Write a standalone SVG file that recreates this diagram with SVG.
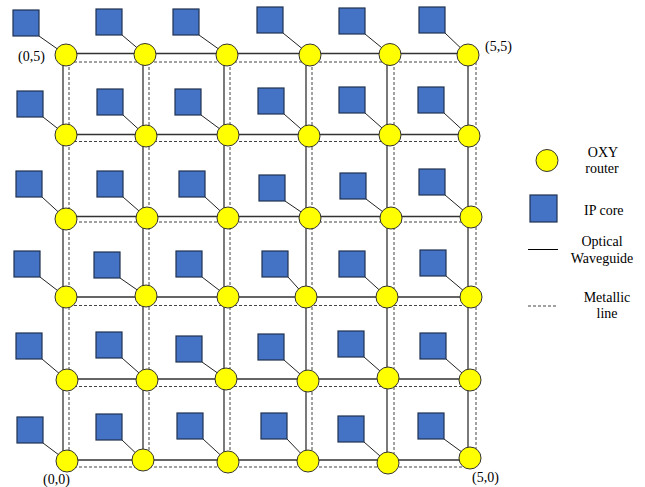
<svg xmlns="http://www.w3.org/2000/svg" width="645" height="487" viewBox="0 0 645 487">
<style>
.w{stroke:#333;stroke-width:1.3;fill:none}
.m{stroke:#444;stroke-width:1;stroke-dasharray:3,2;fill:none}
.c{stroke:#222;stroke-width:1;fill:none}
.ip{fill:#4472C4;stroke:#1F3350;stroke-width:1.2}
.r{fill:#FFFF00;stroke:#333;stroke-width:1}
text{font-family:"Liberation Serif","Times New Roman",serif;font-size:14px;fill:#000}
</style>
<defs>
<rect id="sq" width="26" height="26" class="ip"/>
<circle id="rt" r="11" class="r"/>
</defs>
<g id="connectors">
<g id="metallic">
<path class="m" d="M69,62V467M149,62V467M230,62V467M312,62V467M394,62V467M476,62V467"/>
<path class="m" d="M69,62H476M69,141.5H476M69,222H476M69,305.5H476M69,386.5H476M69,467H476"/>
</g>
<g id="optical">
<path class="w" d="M63,53.5V460M143,53.5V460M224,53.5V460M306,53.5V460M387,53.5V460M468,53.5V460"/>
<path class="w" d="M63,53.5H468M63,134.5H468M63,216.5H468M63,297H468M63,379H468M63,460H468"/>
</g>
<g id="links">
<path class="c" d="M39,36L66,55M122,35L145,54.5M199,35L227,55M283,33L310,55M365,34L390,54.5M445,33L468,55"/>
<path class="c" d="M43,117L66,135M123,115L146,136M201,115L228,135M284,114L309,136M365,113L390,135M444,113L469,136"/>
<path class="c" d="M42,197L66,219M123,197L147,218M205,197L228,218M285,201L310,218M366,199L391,218M445,195L471,217"/>
<path class="c" d="M40,277L66,297M120,278L146,296M202,277L228,297M288,277L306,297M365,277L387,297M446,276L471,297"/>
<path class="c" d="M42,359L67,380M122,358L147,380M202,362L226,379M284,360L308,381M364,357L388,378M446,359L470,380"/>
<path class="c" d="M43,443L67,461M122,440L143,460M203,439L228,462M287,439L308,461M364,442L388,463M444,439L470,458"/>
</g>
</g>
<g id="ipcores">
<use href="#sq" x="13" y="10"/><use href="#sq" x="96" y="9"/><use href="#sq" x="173" y="9"/><use href="#sq" x="257" y="7"/><use href="#sq" x="339" y="8"/><use href="#sq" x="419" y="7"/>
<use href="#sq" x="17" y="91"/><use href="#sq" x="97" y="89"/><use href="#sq" x="175" y="89"/><use href="#sq" x="258" y="88"/><use href="#sq" x="339" y="87"/><use href="#sq" x="418" y="87"/>
<use href="#sq" x="16" y="171"/><use href="#sq" x="97" y="171"/><use href="#sq" x="179" y="171"/><use href="#sq" x="259" y="175"/><use href="#sq" x="340" y="173"/><use href="#sq" x="419" y="169"/>
<use href="#sq" x="14" y="251"/><use href="#sq" x="94" y="252"/><use href="#sq" x="176" y="251"/><use href="#sq" x="262" y="251"/><use href="#sq" x="339" y="251"/><use href="#sq" x="420" y="250"/>
<use href="#sq" x="16" y="333"/><use href="#sq" x="96" y="332"/><use href="#sq" x="176" y="336"/><use href="#sq" x="258" y="334"/><use href="#sq" x="338" y="331"/><use href="#sq" x="420" y="333"/>
<use href="#sq" x="17" y="417"/><use href="#sq" x="96" y="414"/><use href="#sq" x="177" y="413"/><use href="#sq" x="261" y="413"/><use href="#sq" x="338" y="416"/><use href="#sq" x="418" y="413"/>
</g>
<g id="routers">
<use href="#rt" x="66" y="55"/><use href="#rt" x="145" y="54.5"/><use href="#rt" x="227" y="55"/><use href="#rt" x="310" y="55"/><use href="#rt" x="390" y="54.5"/><use href="#rt" x="468" y="55"/>
<use href="#rt" x="66" y="135"/><use href="#rt" x="146" y="136"/><use href="#rt" x="228" y="135"/><use href="#rt" x="309" y="136"/><use href="#rt" x="390" y="135"/><use href="#rt" x="469" y="136"/>
<use href="#rt" x="66" y="219"/><use href="#rt" x="147" y="218"/><use href="#rt" x="228" y="218"/><use href="#rt" x="310" y="218"/><use href="#rt" x="391" y="218"/><use href="#rt" x="471" y="217"/>
<use href="#rt" x="66" y="297"/><use href="#rt" x="146" y="296"/><use href="#rt" x="228" y="297"/><use href="#rt" x="306" y="297"/><use href="#rt" x="387" y="297"/><use href="#rt" x="471" y="297"/>
<use href="#rt" x="67" y="380"/><use href="#rt" x="147" y="380"/><use href="#rt" x="226" y="379"/><use href="#rt" x="308" y="381"/><use href="#rt" x="388" y="378"/><use href="#rt" x="470" y="380"/>
<use href="#rt" x="67" y="461"/><use href="#rt" x="143" y="460"/><use href="#rt" x="228" y="462"/><use href="#rt" x="308" y="461"/><use href="#rt" x="388" y="463"/><use href="#rt" x="470" y="458"/>
</g>
<g id="coords">
<text x="18" y="61">(0,5)</text>
<text x="485" y="51">(5,5)</text>
<text x="43" y="484">(0,0)</text>
<text x="472" y="482">(5,0)</text>
</g>
<g id="legend">
<circle cx="547" cy="160.5" r="11" class="r"/>
<text x="603" y="157" text-anchor="middle">OXY</text>
<text x="602" y="173" text-anchor="middle">router</text>
<rect x="530" y="195" width="27" height="27" class="ip"/>
<text x="584" y="215">IP core</text>
<line x1="528" y1="249.5" x2="558" y2="249.5" stroke="#000" stroke-width="1"/>
<text x="602" y="246" text-anchor="middle">Optical</text>
<text x="602" y="263" text-anchor="middle">Waveguide</text>
<line x1="528" y1="306" x2="557" y2="306" class="m"/>
<text x="607" y="302" text-anchor="middle">Metallic</text>
<text x="607" y="318" text-anchor="middle">line</text>
</g>
</svg>
